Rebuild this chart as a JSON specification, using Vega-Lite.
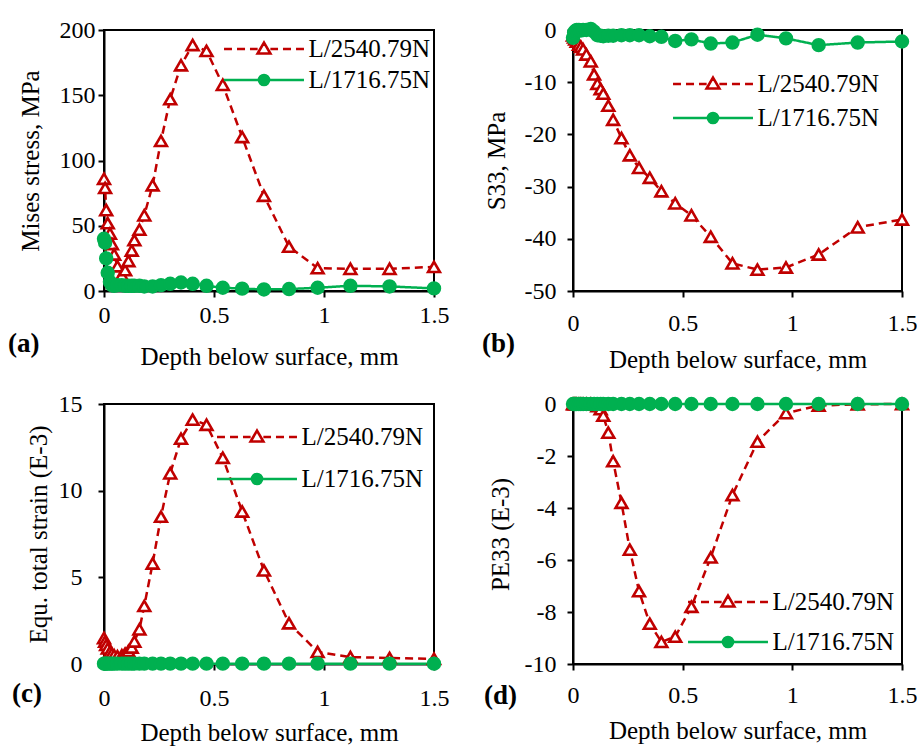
{
  "$schema": "https://vega.github.io/schema/vega-lite/v6.json",
  "background": "white",
  "padding": {"left": 7, "top": 16, "right": 0, "bottom": 0},
  "config": {
    "font": "Liberation Serif",
    "view": {"stroke": "#000", "strokeWidth": 2},
    "axis": {"grid": false, "domainColor": "#000", "domainWidth": 2, "tickColor": "#000", "tickWidth": 2, "tickSize": 6,
      "labelFont": "Liberation Serif", "labelFontSize": 24, "labelColor": "#000", "labelFlush": false, "labelOverlap": false,
      "titleFont": "Liberation Serif", "titleFontSize": 25, "titleFontWeight": "normal", "titleColor": "#000"},
    "legend": {"labelFont": "Liberation Serif", "labelFontSize": 25, "labelColor": "#000", "labelLimit": 0, "padding": 0, "symbolSize": 225, "labelOffset": 32},
    "title": {"font": "Liberation Serif", "fontSize": 27, "fontWeight": "bold", "color": "#000"}
  },
  "datasets": {
    "a": [
      {"d":0,"r":86,"g":40},{"d":0.005,"r":79,"g":37},{"d":0.01,"r":62,"g":25},{"d":0.017,"r":52,"g":14},{"d":0.027,"r":44,"g":7},
      {"d":0.036,"r":36,"g":4.5},{"d":0.046,"r":28,"g":4},{"d":0.061,"r":19,"g":4.5},{"d":0.081,"r":12,"g":4.5},{"d":0.096,"r":16,"g":4},
      {"d":0.111,"r":23,"g":4},{"d":0.126,"r":31,"g":4},{"d":0.138,"r":39,"g":4},{"d":0.161,"r":47,"g":4},{"d":0.183,"r":58,"g":3.5},
      {"d":0.221,"r":81,"g":3.5},{"d":0.259,"r":115,"g":4.5},{"d":0.301,"r":147,"g":5.5},{"d":0.35,"r":173,"g":6.5},{"d":0.403,"r":188.5,"g":5.5},
      {"d":0.466,"r":184,"g":4},{"d":0.54,"r":158,"g":2.5},{"d":0.628,"r":118,"g":1.8},{"d":0.727,"r":73,"g":1.2},{"d":0.841,"r":34,"g":1.5},
      {"d":0.971,"r":17.5,"g":2.5},{"d":1.12,"r":17,"g":4},{"d":1.298,"r":17,"g":3.5},{"d":1.5,"r":18.5,"g":2}
    ],
    "b": [
      {"d":0,"r":-1,"g":-1.5},{"d":0.005,"r":-1.4,"g":-0.5},{"d":0.01,"r":-1.8,"g":-0.2},{"d":0.017,"r":-2.2,"g":0},{"d":0.027,"r":-2.8,"g":0},
      {"d":0.036,"r":-3.2,"g":-0.1},{"d":0.046,"r":-3.7,"g":0},{"d":0.061,"r":-4.7,"g":0},{"d":0.081,"r":-6,"g":0.2},{"d":0.096,"r":-8.5,"g":-0.3},
      {"d":0.111,"r":-10.3,"g":-1},{"d":0.126,"r":-11.3,"g":-1.1},{"d":0.138,"r":-12.2,"g":-1.2},{"d":0.161,"r":-14.5,"g":-1.1},{"d":0.183,"r":-17.2,"g":-1.1},
      {"d":0.221,"r":-20.7,"g":-1},{"d":0.259,"r":-24,"g":-1},{"d":0.301,"r":-26.4,"g":-1},{"d":0.35,"r":-28.3,"g":-1.2},{"d":0.403,"r":-30.9,"g":-1.3},
      {"d":0.466,"r":-33.2,"g":-2.1},{"d":0.54,"r":-35.5,"g":-1.8},{"d":0.628,"r":-39.6,"g":-2.6},{"d":0.727,"r":-44.7,"g":-2.4},{"d":0.841,"r":-45.9,"g":-0.9},
      {"d":0.971,"r":-45.5,"g":-1.6},{"d":1.12,"r":-43,"g":-2.9},{"d":1.298,"r":-37.8,"g":-2.4},{"d":1.5,"r":-36.3,"g":-2.2}
    ],
    "c": [
      {"d":0,"r":1.5,"g":0.02},{"d":0.005,"r":1.3,"g":0.02},{"d":0.01,"r":1.1,"g":0.02},{"d":0.017,"r":0.9,"g":0.02},{"d":0.027,"r":0.7,"g":0.02},
      {"d":0.036,"r":0.6,"g":0.02},{"d":0.046,"r":0.5,"g":0.02},{"d":0.061,"r":0.45,"g":0.02},{"d":0.081,"r":0.5,"g":0.02},{"d":0.096,"r":0.6,"g":0.02},
      {"d":0.111,"r":0.75,"g":0.02},{"d":0.126,"r":0.95,"g":0.02},{"d":0.138,"r":1.3,"g":0.02},{"d":0.161,"r":2.0,"g":0.02},{"d":0.183,"r":3.35,"g":0.02},
      {"d":0.221,"r":5.8,"g":0.02},{"d":0.259,"r":8.5,"g":0.02},{"d":0.301,"r":11,"g":0.02},{"d":0.35,"r":13,"g":0.02},{"d":0.403,"r":14.1,"g":0.02},
      {"d":0.466,"r":13.8,"g":0.02},{"d":0.54,"r":11.9,"g":0.02},{"d":0.628,"r":8.8,"g":0.02},{"d":0.727,"r":5.4,"g":0.02},{"d":0.841,"r":2.35,"g":0.02},
      {"d":0.971,"r":0.7,"g":0.02},{"d":1.12,"r":0.4,"g":0.02},{"d":1.298,"r":0.35,"g":0.02},{"d":1.5,"r":0.3,"g":0.02}
    ],
    "d": [
      {"d":0,"r":0,"g":0},{"d":0.005,"r":0,"g":0},{"d":0.01,"r":0,"g":0},{"d":0.017,"r":0,"g":0},{"d":0.027,"r":0,"g":0},
      {"d":0.036,"r":0,"g":0},{"d":0.046,"r":0,"g":0},{"d":0.061,"r":0,"g":0},{"d":0.081,"r":0,"g":0},{"d":0.096,"r":-0.02,"g":0},
      {"d":0.111,"r":-0.08,"g":0},{"d":0.126,"r":-0.2,"g":0},{"d":0.138,"r":-0.45,"g":0},{"d":0.161,"r":-1.1,"g":0},{"d":0.183,"r":-2.2,"g":0},
      {"d":0.221,"r":-3.8,"g":0},{"d":0.259,"r":-5.6,"g":0},{"d":0.301,"r":-7.2,"g":0},{"d":0.35,"r":-8.45,"g":0},{"d":0.403,"r":-9.15,"g":0},
      {"d":0.466,"r":-8.95,"g":0},{"d":0.54,"r":-7.8,"g":0},{"d":0.628,"r":-5.9,"g":0},{"d":0.727,"r":-3.5,"g":0},{"d":0.841,"r":-1.45,"g":0},
      {"d":0.971,"r":-0.35,"g":0},{"d":1.12,"r":-0.06,"g":0},{"d":1.298,"r":-0.01,"g":0},{"d":1.5,"r":0,"g":0}
    ]
  },
  "columns": 2,
  "spacing": {"row": 18, "column": 31},
  "resolve": {"scale": {"color": "independent"}},
  "concat": [
    {
      "width": 330, "height": 261,
      "data": {"name": "a"},
      "transform": [{"fold": ["r", "g"], "as": ["s", "v"]}],
      "title": {"text": "(a)", "orient": "bottom", "anchor": "start", "frame": "bounds", "baseline": "top", "offset": 0, "dx": -10, "dy": -38},
      "encoding": {
        "x": {"field": "d", "type": "quantitative", "scale": {"domain": [0, 1.5], "nice": false},
          "axis": {"values": [0, 0.5, 1, 1.5], "format": "~g", "title": "Depth below surface, mm", "labelPadding": 6, "titlePadding": 17}},
        "y": {"field": "v", "type": "quantitative", "scale": {"domain": [0, 200], "nice": false, "zero": false},
          "axis": {"values": [0, 50, 100, 150, 200], "title": "Mises stress, MPa", "labelPadding": 3, "titlePadding": 16}}
      },
      "layer": [
        {"mark": {"type": "line", "strokeWidth": 2.5},
          "encoding": {
            "color": {"field": "s", "type": "nominal", "scale": {"domain": ["r", "g"], "range": ["#c00000", "#00b050"]},
              "legend": {"orient": "none", "legendX": 147.5, "legendY": 6.5, "title": null, "rowPadding": 5,
                "labelExpr": "datum.value === 'r' ? 'L/2540.79N' : 'L/1716.75N'",
                "encode": {"symbols": {"update": {
                  "shape": {"signal": "datum.value === 'r' ? 'M0,-0.85L0.85,0.6L-0.85,0.6Z M-5.33,0H-4.27M-3.6,0H-2.53M-1.87,0H-0.85M0.85,0H1.87M2.53,0H3.6M4.27,0H5.33' : 'M-5.33,0H5.33M0.67,0A0.67,0.67,0,1,1,-0.67,0A0.67,0.67,0,1,1,0.67,0'"},
                  "fill": {"signal": "datum.value === 'r' ? '#ffffff' : '#00b050'"},
                  "stroke": {"signal": "datum.value === 'r' ? '#c00000' : '#00b050'"},
                  "fillOpacity": {"value": 1}, "strokeOpacity": {"value": 1}, "opacity": {"value": 1},
                  "strokeWidth": {"value": 2.6}}}}}},
            "strokeDash": {"field": "s", "type": "nominal", "scale": {"domain": ["r", "g"], "range": [[8, 5], [1, 0]]}, "legend": null}
          }},
        {"mark": {"type": "point", "size": 140, "strokeWidth": 2.6, "opacity": 1},
          "encoding": {
            "shape": {"field": "s", "type": "nominal", "scale": {"domain": ["r", "g"], "range": ["triangle-up", "circle"]}, "legend": null},
            "fill": {"field": "s", "type": "nominal", "scale": {"domain": ["r", "g"], "range": ["#ffffff", "#00b050"]}, "legend": null},
            "stroke": {"field": "s", "type": "nominal", "scale": {"domain": ["r", "g"], "range": ["#c00000", "#00b050"]}, "legend": null},
            "order": {"field": "s", "sort": "descending"}
          }}
      ]
    },
    {
      "width": 329, "height": 261,
      "data": {"name": "b"},
      "transform": [{"fold": ["r", "g"], "as": ["s", "v"]}],
      "title": {"text": "(b)", "orient": "bottom", "anchor": "start", "frame": "bounds", "baseline": "top", "offset": 0, "dx": -2, "dy": -41},
      "encoding": {
        "x": {"field": "d", "type": "quantitative", "scale": {"domain": [0, 1.5], "nice": false},
          "axis": {"values": [0, 0.5, 1, 1.5], "format": "~g", "title": "Depth below surface, mm", "labelPadding": 14, "titlePadding": 12}},
        "y": {"field": "v", "type": "quantitative", "scale": {"domain": [-50, 0], "nice": false, "zero": false},
          "axis": {"values": [-50, -40, -30, -20, -10, 0], "labelExpr": "replace(datum.label, '\u2212', '-')", "title": "S33, MPa", "labelPadding": 11, "titlePadding": 15}}
      },
      "layer": [
        {"mark": {"type": "line", "strokeWidth": 2.5},
          "encoding": {
            "color": {"field": "s", "type": "nominal", "scale": {"domain": ["r", "g"], "range": ["#c00000", "#00b050"]},
              "legend": {"orient": "none", "legendX": 127.5, "legendY": 41.5, "title": null, "rowPadding": 8,
                "labelExpr": "datum.value === 'r' ? 'L/2540.79N' : 'L/1716.75N'",
                "encode": {"symbols": {"update": {
                  "shape": {"signal": "datum.value === 'r' ? 'M0,-0.85L0.85,0.6L-0.85,0.6Z M-5.33,0H-4.27M-3.6,0H-2.53M-1.87,0H-0.85M0.85,0H1.87M2.53,0H3.6M4.27,0H5.33' : 'M-5.33,0H5.33M0.67,0A0.67,0.67,0,1,1,-0.67,0A0.67,0.67,0,1,1,0.67,0'"},
                  "fill": {"signal": "datum.value === 'r' ? '#ffffff' : '#00b050'"},
                  "stroke": {"signal": "datum.value === 'r' ? '#c00000' : '#00b050'"},
                  "fillOpacity": {"value": 1}, "strokeOpacity": {"value": 1}, "opacity": {"value": 1},
                  "strokeWidth": {"value": 2.6}}}}}},
            "strokeDash": {"field": "s", "type": "nominal", "scale": {"domain": ["r", "g"], "range": [[8, 5], [1, 0]]}, "legend": null}
          }},
        {"mark": {"type": "point", "size": 140, "strokeWidth": 2.6, "opacity": 1},
          "encoding": {
            "shape": {"field": "s", "type": "nominal", "scale": {"domain": ["r", "g"], "range": ["triangle-up", "circle"]}, "legend": null},
            "fill": {"field": "s", "type": "nominal", "scale": {"domain": ["r", "g"], "range": ["#ffffff", "#00b050"]}, "legend": null},
            "stroke": {"field": "s", "type": "nominal", "scale": {"domain": ["r", "g"], "range": ["#c00000", "#00b050"]}, "legend": null},
            "order": {"field": "s", "sort": "descending"}
          }}
      ]
    },
    {
      "width": 330, "height": 260,
      "data": {"name": "c"},
      "transform": [{"fold": ["r", "g"], "as": ["s", "v"]}],
      "title": {"text": "(c)", "orient": "bottom", "anchor": "start", "frame": "bounds", "baseline": "top", "offset": 0, "dx": -14, "dy": -64},
      "encoding": {
        "x": {"field": "d", "type": "quantitative", "scale": {"domain": [0, 1.5], "nice": false},
          "axis": {"values": [0, 0.5, 1, 1.5], "format": "~g", "title": "Depth below surface, mm", "labelPadding": 16, "titlePadding": 10}},
        "y": {"field": "v", "type": "quantitative", "scale": {"domain": [0, 15], "nice": false, "zero": false},
          "axis": {"values": [0, 5, 10, 15], "title": "Equ. total strain (E-3)", "labelPadding": 16, "titlePadding": 7}}
      },
      "layer": [
        {"mark": {"type": "line", "strokeWidth": 2.5},
          "encoding": {
            "color": {"field": "s", "type": "nominal", "scale": {"domain": ["r", "g"], "range": ["#c00000", "#00b050"]},
              "legend": {"orient": "none", "legendX": 140.5, "legendY": 20.5, "title": null, "rowPadding": 16,
                "labelExpr": "datum.value === 'r' ? 'L/2540.79N' : 'L/1716.75N'",
                "encode": {"symbols": {"update": {
                  "shape": {"signal": "datum.value === 'r' ? 'M0,-0.85L0.85,0.6L-0.85,0.6Z M-5.33,0H-4.27M-3.6,0H-2.53M-1.87,0H-0.85M0.85,0H1.87M2.53,0H3.6M4.27,0H5.33' : 'M-5.33,0H5.33M0.67,0A0.67,0.67,0,1,1,-0.67,0A0.67,0.67,0,1,1,0.67,0'"},
                  "fill": {"signal": "datum.value === 'r' ? '#ffffff' : '#00b050'"},
                  "stroke": {"signal": "datum.value === 'r' ? '#c00000' : '#00b050'"},
                  "fillOpacity": {"value": 1}, "strokeOpacity": {"value": 1}, "opacity": {"value": 1},
                  "strokeWidth": {"value": 2.6}}}}}},
            "strokeDash": {"field": "s", "type": "nominal", "scale": {"domain": ["r", "g"], "range": [[8, 5], [1, 0]]}, "legend": null}
          }},
        {"mark": {"type": "point", "size": 140, "strokeWidth": 2.6, "opacity": 1},
          "encoding": {
            "shape": {"field": "s", "type": "nominal", "scale": {"domain": ["r", "g"], "range": ["triangle-up", "circle"]}, "legend": null},
            "fill": {"field": "s", "type": "nominal", "scale": {"domain": ["r", "g"], "range": ["#ffffff", "#00b050"]}, "legend": null},
            "stroke": {"field": "s", "type": "nominal", "scale": {"domain": ["r", "g"], "range": ["#c00000", "#00b050"]}, "legend": null},
            "order": {"field": "s", "sort": "descending"}
          }}
      ]
    },
    {
      "width": 329, "height": 260,
      "data": {"name": "d"},
      "transform": [{"fold": ["r", "g"], "as": ["s", "v"]}],
      "title": {"text": "(d)", "orient": "bottom", "anchor": "start", "frame": "bounds", "baseline": "top", "offset": 0, "dx": -4, "dy": -60},
      "encoding": {
        "x": {"field": "d", "type": "quantitative", "scale": {"domain": [0, 1.5], "nice": false},
          "axis": {"values": [0, 0.5, 1, 1.5], "format": "~g", "title": "Depth below surface, mm", "labelPadding": 13, "titlePadding": 11}},
        "y": {"field": "v", "type": "quantitative", "scale": {"domain": [-10, 0], "nice": false, "zero": false},
          "axis": {"values": [-10, -8, -6, -4, -2, 0], "labelExpr": "replace(datum.label, '\u2212', '-')", "title": "PE33 (E-3)", "labelPadding": 11, "titlePadding": 11}}
      },
      "layer": [
        {"mark": {"type": "line", "strokeWidth": 2.5},
          "encoding": {
            "color": {"field": "s", "type": "nominal", "scale": {"domain": ["r", "g"], "range": ["#c00000", "#00b050"]},
              "legend": {"orient": "none", "legendX": 142.5, "legendY": 185.5, "title": null, "rowPadding": 14,
                "labelExpr": "datum.value === 'r' ? 'L/2540.79N' : 'L/1716.75N'",
                "encode": {"symbols": {"update": {
                  "shape": {"signal": "datum.value === 'r' ? 'M0,-0.85L0.85,0.6L-0.85,0.6Z M-5.33,0H-4.27M-3.6,0H-2.53M-1.87,0H-0.85M0.85,0H1.87M2.53,0H3.6M4.27,0H5.33' : 'M-5.33,0H5.33M0.67,0A0.67,0.67,0,1,1,-0.67,0A0.67,0.67,0,1,1,0.67,0'"},
                  "fill": {"signal": "datum.value === 'r' ? '#ffffff' : '#00b050'"},
                  "stroke": {"signal": "datum.value === 'r' ? '#c00000' : '#00b050'"},
                  "fillOpacity": {"value": 1}, "strokeOpacity": {"value": 1}, "opacity": {"value": 1},
                  "strokeWidth": {"value": 2.6}}}}}},
            "strokeDash": {"field": "s", "type": "nominal", "scale": {"domain": ["r", "g"], "range": [[8, 5], [1, 0]]}, "legend": null}
          }},
        {"mark": {"type": "point", "size": 140, "strokeWidth": 2.6, "opacity": 1},
          "encoding": {
            "shape": {"field": "s", "type": "nominal", "scale": {"domain": ["r", "g"], "range": ["triangle-up", "circle"]}, "legend": null},
            "fill": {"field": "s", "type": "nominal", "scale": {"domain": ["r", "g"], "range": ["#ffffff", "#00b050"]}, "legend": null},
            "stroke": {"field": "s", "type": "nominal", "scale": {"domain": ["r", "g"], "range": ["#c00000", "#00b050"]}, "legend": null},
            "order": {"field": "s", "sort": "descending"}
          }}
      ]
    }
  ]
}
